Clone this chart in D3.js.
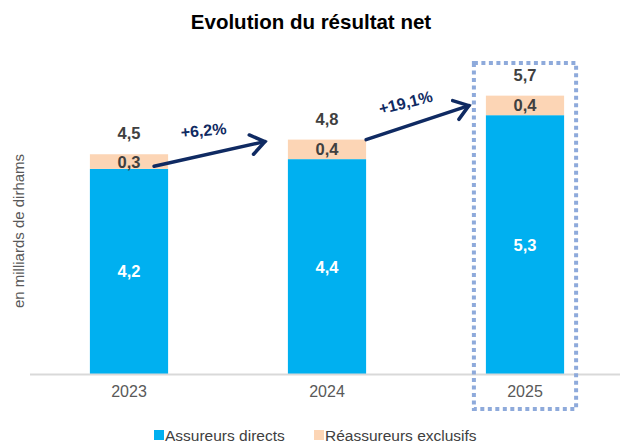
<!DOCTYPE html>
<html><head><meta charset="utf-8">
<script src="https://cdn.jsdelivr.net/npm/d3@7"></script>
<style>body{margin:0;background:#fff}svg{display:block}text{font-family:"Liberation Sans",Arial,sans-serif}</style>
</head><body>
<script>
const years = ["2023","2024","2025"];
const direct = [4.2, 4.4, 5.3];
const reins = [0.3, 0.4, 0.4];
const totals = [4.5, 4.8, 5.7];
const growth = ["+6,2%", "+19,1%"];
const seriesNames = ["Assureurs directs", "Réassureurs exclusifs"];
const colors = ["#00b0f0", "#fcd5b5"];
const fmt = v => d3.format(".1f")(v).replace(".", ",");

const W = 620, H = 443;
const svg = d3.select("body").append("svg").attr("width", W).attr("height", H);

const x = d3.scaleBand().domain(years).range([30, 624]).paddingInner(0.605).paddingOuter(0.3025);
const y = d3.scaleLinear().domain([0, 6]).range([374, 81]);

const data = years.map((yr, i) => ({yr, d: direct[i], r: reins[i], t: totals[i]}));

// title
svg.append("text").attr("x", 311).attr("y", 29).attr("text-anchor", "middle")
  .attr("font-size", 20.5).attr("font-weight", "bold").attr("fill", "#000").text("Evolution du résultat net");

// y label
svg.append("text").attr("transform", "translate(24,231) rotate(-90)").attr("text-anchor", "middle")
  .attr("font-size", 15).attr("fill", "#595959").text("en milliards de dirhams");

// bars
const g = svg.append("g");
g.selectAll(".bd").data(data).join("rect").attr("x", d => x(d.yr)).attr("width", x.bandwidth())
  .attr("y", d => y(d.d)).attr("height", d => y(0) - y(d.d)).attr("fill", colors[0]);
g.selectAll(".br").data(data).join("rect").attr("x", d => x(d.yr)).attr("width", x.bandwidth())
  .attr("y", d => y(d.d + d.r)).attr("height", d => y(d.d) - y(d.d + d.r)).attr("fill", colors[1]);

// axis line
const xAxis = d3.axisBottom(x).tickSize(0).tickPadding(12);
const ax = svg.append("g").attr("transform", `translate(0,${y(0)})`).call(xAxis);
ax.select(".domain").attr("stroke", "#d9d9d9").attr("stroke-width", 2).attr("d", "M30,0.5H620");
ax.selectAll("text").attr("font-size", 16).attr("fill", "#595959").attr("font-family", "Liberation Sans, Arial, sans-serif");

// labels
const cx = d => x(d.yr) + x.bandwidth() / 2;
g.selectAll(".ld").data(data).join("text").attr("x", cx).attr("y", d => y(d.d / 2) + 6)
  .attr("text-anchor", "middle").attr("font-size", 16.5).attr("font-weight", "bold").attr("fill", "#fff").text(d => fmt(d.d));
g.selectAll(".lr").data(data).join("text").attr("x", cx).attr("y", d => y(d.d + d.r / 2) + 6)
  .attr("text-anchor", "middle").attr("font-size", 16.5).attr("font-weight", "bold").attr("fill", "#404040").text(d => fmt(d.r));
g.selectAll(".lt").data(data).join("text").attr("x", cx).attr("y", d => y(d.t) - 15)
  .attr("text-anchor", "middle").attr("font-size", 16.5).attr("font-weight", "bold").attr("fill", "#404040").text(d => fmt(d.t));

// highlight box around 2025
const last = data[2];
svg.append("rect").attr("x", x(last.yr) - 12).attr("y", 63).attr("width", x.bandwidth() + 24).attr("height", 346)
  .attr("fill", "none").attr("stroke", "#8eaadb").attr("stroke-width", 4).attr("stroke-dasharray", "4,3.5");

// growth arrows
const navy = "#0f2a62";
function arrow(x1, y1, x2, y2) {
  svg.append("line").attr("x1", x1).attr("y1", y1).attr("x2", x2).attr("y2", y2)
    .attr("stroke", navy).attr("stroke-width", 3.5).attr("stroke-linecap", "round");
  const a = Math.atan2(y2 - y1, x2 - x1), L = 17, s = 0.62;
  const p1 = [x2 - L * Math.cos(a - s), y2 - L * Math.sin(a - s)];
  const p2 = [x2 - L * Math.cos(a + s), y2 - L * Math.sin(a + s)];
  svg.append("path").attr("d", `M${p1}L${x2},${y2}L${p2}`).attr("fill", "none")
    .attr("stroke", navy).attr("stroke-width", 3.5).attr("stroke-linecap", "round").attr("stroke-linejoin", "miter");
}
const a1 = [x(data[0].yr) + x.bandwidth() - 14, y(data[0].t) + 12, x(data[1].yr) - 23, y(data[1].t) + 2];
const a2 = [x(data[1].yr) + x.bandwidth(), y(data[1].t), x(last.yr) - 17, y(last.t) + 10];
arrow(...a1);
arrow(...a2);
svg.append("text").attr("transform", "translate(204,136) rotate(-5)").attr("text-anchor", "middle")
  .attr("font-size", 16).attr("font-weight", "bold").attr("fill", navy).text(growth[0]);
svg.append("text").attr("transform", "translate(407,108) rotate(-14)").attr("text-anchor", "middle")
  .attr("font-size", 16).attr("font-weight", "bold").attr("fill", navy).text(growth[1]);

// legend
const leg = svg.append("g").attr("transform", "translate(0,441)");
const lx = [154, 314];
seriesNames.forEach((n, i) => {
  leg.append("rect").attr("x", lx[i]).attr("y", -11).attr("width", 10).attr("height", 10).attr("fill", colors[i]);
  leg.append("text").attr("x", lx[i] + 11).attr("y", 0).attr("font-size", 15.5).attr("fill", "#404040").text(n);
});
</script>
</body></html>
